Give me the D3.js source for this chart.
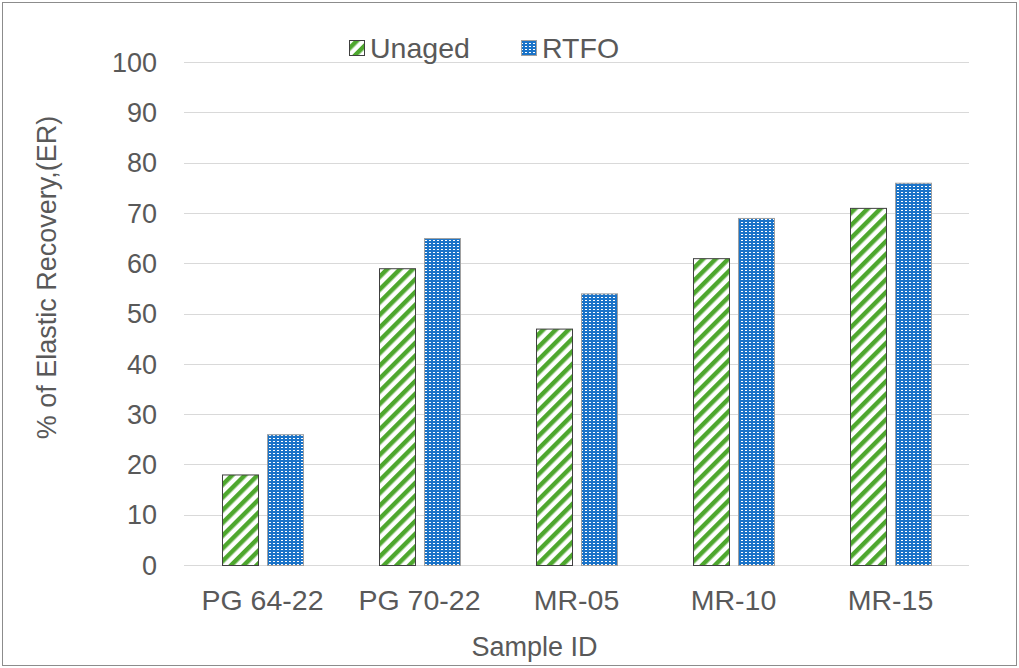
<!DOCTYPE html>
<html>
<head>
<meta charset="utf-8">
<script src="https://cdn.jsdelivr.net/npm/d3@7"></script>
<style>
  body { margin: 0; background: #fff; }
  text { font-family: "Liberation Sans", Arial, sans-serif; fill: #595959; }
</style>
</head>
<body>
<div id="chart"></div>
<script>
var categories = ["PG 64-22", "PG 70-22", "MR-05", "MR-10", "MR-15"];
var seriesNames = ["Unaged", "RTFO"];
var unaged = [18, 59, 47, 61, 71];
var rtfo = [26, 65, 54, 69, 76];
var yTicks = [0, 10, 20, 30, 40, 50, 60, 70, 80, 90, 100];

var W = 1019, H = 668;
var margin = {top: 62, right: 50, bottom: 103, left: 184},
    width = 969 - margin.left,
    height = 565 - margin.top;

var svg = d3.select("#chart").append("svg")
    .attr("width", W)
    .attr("height", H);

// patterns
var defs = svg.append("defs");
var stripe = defs.append("pattern")
    .attr("id", "stripes")
    .attr("patternUnits", "userSpaceOnUse")
    .attr("width", 9).attr("height", 9)
    .attr("patternTransform", "rotate(45)");
stripe.append("rect").attr("width", 9).attr("height", 9).attr("fill", "#fff");
stripe.append("rect").attr("width", 4.5).attr("height", 9).attr("fill", "#4ea72e");

var dots = defs.append("pattern")
    .attr("id", "dots")
    .attr("patternUnits", "userSpaceOnUse")
    .attr("width", 4).attr("height", 3);
dots.append("rect").attr("width", 4).attr("height", 3).attr("fill", "#1a73c8");
dots.append("rect").attr("x", 1).attr("y", 1).attr("width", 2).attr("height", 1).attr("fill", "#fff");

// outer border
svg.append("rect")
    .attr("x", 2.5).attr("y", 2.5)
    .attr("width", W - 5).attr("height", H - 5)
    .attr("fill", "none")
    .attr("stroke", "#8c8c8c");

var g = svg.append("g")
    .attr("transform", "translate(" + margin.left + "," + margin.top + ")");

var x = d3.scaleBand().domain(categories).range([0, width]);
var y = d3.scaleLinear().domain([0, 100]).range([height, 0]);

// gridlines
g.selectAll(".grid")
    .data(yTicks)
    .enter().append("line")
    .attr("x1", 0).attr("x2", width)
    .attr("y1", function(d) { return Math.round(y(d)) + 0.5; })
    .attr("y2", function(d) { return Math.round(y(d)) + 0.5; })
    .attr("stroke", "#d9d9d9")
    .attr("stroke-width", 1);

// y tick labels
g.selectAll(".ytick")
    .data(yTicks)
    .enter().append("text")
    .attr("x", -27)
    .attr("y", function(d) { return y(d); })
    .attr("dy", "0.36em")
    .attr("text-anchor", "end")
    .style("font-size", "27px")
    .text(function(d) { return d; });

// x tick labels
g.selectAll(".xtick")
    .data(categories)
    .enter().append("text")
    .attr("x", function(d) { return x(d) + x.bandwidth() / 2; })
    .attr("y", height + 45)
    .attr("text-anchor", "middle")
    .style("font-size", "28.5px")
    .text(function(d) { return d; });

var barW = 36, gap = 9;
var rows = categories.map(function(c, i) { return {cat: c, u: unaged[i], r: rtfo[i]}; });

g.selectAll(".bar-u")
    .data(rows)
    .enter().append("rect")
    .attr("x", function(d) { return x(d.cat) + x.bandwidth() / 2 - gap / 2 - barW + 0.5; })
    .attr("y", function(d) { return y(d.u) + 0.5; })
    .attr("width", barW)
    .attr("height", function(d) { return height - y(d.u); })
    .attr("fill", "url(#stripes)")
    .attr("stroke", "#404040")
    .attr("stroke-width", 1);

g.selectAll(".bar-r")
    .data(rows)
    .enter().append("rect")
    .attr("x", function(d) { return x(d.cat) + x.bandwidth() / 2 + gap / 2 + 0.5; })
    .attr("y", function(d) { return y(d.r) + 0.5; })
    .attr("width", barW)
    .attr("height", function(d) { return height - y(d.r); })
    .attr("fill", "url(#dots)")
    .attr("stroke", "#a0a0a0")
    .attr("stroke-width", 1);

// axis titles
svg.append("text")
    .attr("transform", "translate(56," + (margin.top + height / 2 - 36) + ") rotate(-90)")
    .attr("text-anchor", "middle")
    .style("font-size", "27px")
    .text("% of Elastic Recovery,(ER)");

svg.append("text")
    .attr("x", margin.left + width / 2 - 42)
    .attr("y", 656)
    .attr("text-anchor", "middle")
    .style("font-size", "27px")
    .text("Sample ID");

// legend
var legend = svg.append("g");
var legendItems = [
    {name: seriesNames[0], fill: "url(#stripes)", stroke: "#404040", x: 349},
    {name: seriesNames[1], fill: "url(#dots)", stroke: "#a0a0a0", x: 521}
];
legendItems.forEach(function(d) {
    legend.append("rect")
        .attr("x", d.x + 0.5).attr("y", 40.5)
        .attr("width", 15).attr("height", 15)
        .attr("fill", d.fill)
        .attr("stroke", d.stroke);
    legend.append("text")
        .attr("x", d.x + 21)
        .attr("y", 58)
        .style("font-size", "28.5px")
        .text(d.name);
});
</script>
</body>
</html>
